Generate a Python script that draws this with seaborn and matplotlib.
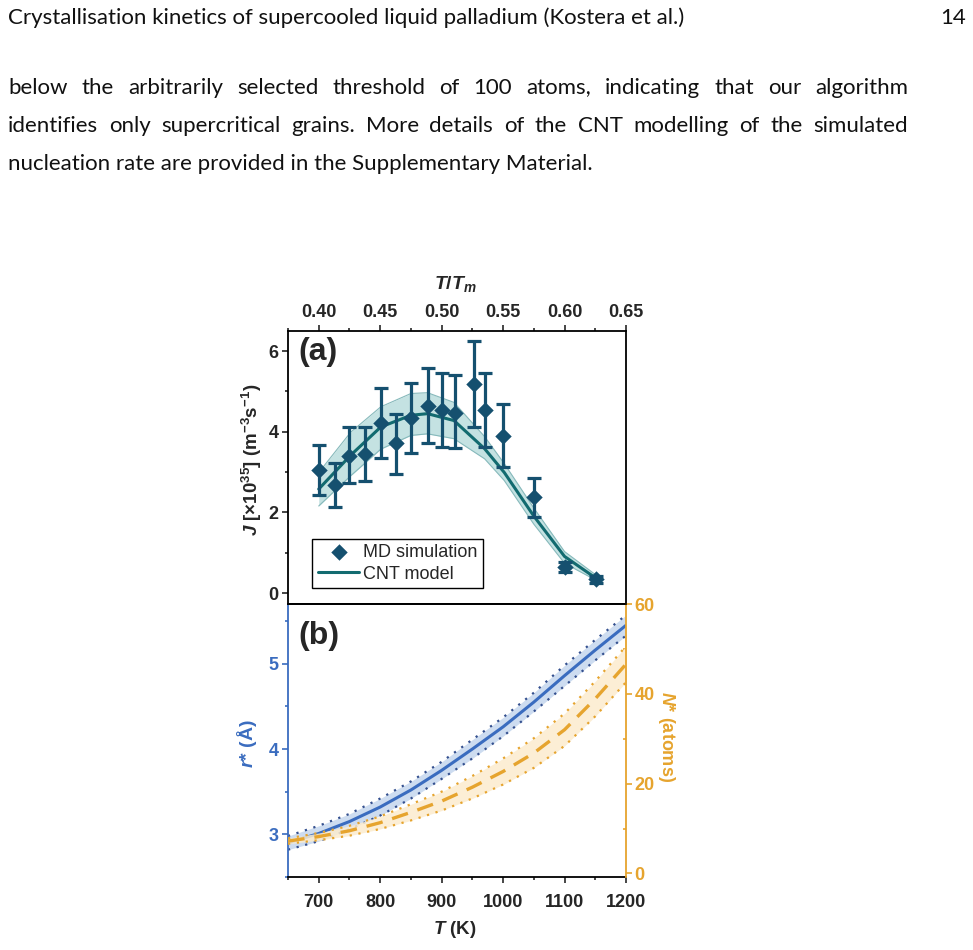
import numpy as np
import pandas as pd
import matplotlib
matplotlib.use("Agg")
import matplotlib.pyplot as plt
from matplotlib.ticker import MultipleLocator, FormatStrFormatter
import seaborn as sns

# page text around the figure
header = "Crystallisation kinetics of supercooled liquid palladium (Kostera et al.)"
page_no = "14"
body_lines = [
    "below the arbitrarily selected threshold of 100 atoms, indicating that our algorithm",
    "identifies only supercritical grains. More details of the CNT modelling of the simulated",
    "nucleation rate are provided in the Supplementary Material.",
]
body_justify = [True, True, False]

# (a) MD nucleation rate, J in 1e35 m^-3 s^-1 vs T/Tm
md_x = [0.400, 0.413, 0.425, 0.438, 0.451, 0.463, 0.475, 0.4885, 0.500, 0.511,
        0.526, 0.535, 0.550, 0.575, 0.6005, 0.6255]
md_j = [3.06, 2.68, 3.41, 3.45, 4.22, 3.72, 4.34, 4.63, 4.54, 4.47,
        5.19, 4.55, 3.90, 2.38, 0.64, 0.34]
md_hi = [3.68, 3.22, 4.13, 4.13, 5.09, 4.43, 5.22, 5.59, 5.45, 5.41,
         6.24, 5.45, 4.70, 2.86, 0.76, 0.42]
md_lo = [2.43, 2.14, 2.72, 2.77, 3.35, 2.95, 3.47, 3.72, 3.62, 3.59,
         4.12, 3.62, 3.12, 1.88, 0.52, 0.26]

# (a) CNT model with its uncertainty band
cnt_x = [0.400, 0.426, 0.4505, 0.475, 0.4885, 0.510, 0.535, 0.551, 0.575, 0.600, 0.6255]
cnt_j = [2.58, 3.42, 4.12, 4.41, 4.45, 4.28, 3.58, 2.99, 1.91, 0.91, 0.37]
cnt_hi = [2.99, 3.99, 4.62, 4.95, 4.97, 4.73, 3.88, 3.21, 2.11, 1.03, 0.45]
cnt_lo = [2.16, 2.91, 3.57, 3.91, 3.95, 3.83, 3.33, 2.79, 1.71, 0.74, 0.32]

# (b) critical radius and critical size vs T
temp_k = [650, 700, 750, 800, 850, 900, 950, 1000, 1050, 1100, 1150, 1200]
r_star = [2.90, 3.01, 3.15, 3.32, 3.52, 3.75, 4.00, 4.26, 4.55, 4.86, 5.16, 5.45]
r_err = [0.08, 0.09, 0.09, 0.10, 0.10, 0.10, 0.11, 0.11, 0.11, 0.12, 0.12, 0.12]
n_star = [7.2, 8.2, 9.5, 11.3, 13.6, 16.1, 19.2, 22.7, 26.8, 32.0, 38.9, 46.6]
n_err = [0.6, 0.8, 1.1, 1.4, 1.8, 2.1, 2.5, 2.9, 3.3, 3.6, 3.9, 4.0]

# colours
md_col = "#15506f"
cnt_col = "#126b70"
cnt_band = "#c4e2e2"
blue = "#3a6cbf"
blue_band = "#cddcf0"
blue_dot = "#34508f"
orange = "#e6a42e"
orange_band = "#fcecce"

sns.set_style("ticks")
plt.rcParams["font.family"] = ["Liberation Sans", "DejaVu Sans"]
plt.rcParams["mathtext.fontset"] = "custom"
plt.rcParams["mathtext.rm"] = "Liberation Sans:bold"
plt.rcParams["mathtext.it"] = "Liberation Sans:italic:bold"
plt.rcParams["mathtext.bf"] = "Liberation Sans:bold"
plt.rcParams["axes.linewidth"] = 1.3

W, H = 973, 950
fig = plt.figure(figsize=(W / 100, H / 100), dpi=100)

# ---- page text
text_font = dict(family=["Lato", "DejaVu Sans"], fontsize=16, color="#111111")
fig.text(8 / W, 1 - 18 / H, header, ha="left", va="center", **text_font)
fig.text(966 / W, 1 - 18 / H, page_no, ha="right", va="center", **text_font)

renderer = fig.canvas.get_renderer()
for i, (line, just) in enumerate(zip(body_lines, body_justify)):
    y = 1 - (88 + 38 * i) / H
    if not just:
        fig.text(8 / W, y, line, ha="left", va="center", **text_font)
        continue
    words = line.split(" ")
    arts = [fig.text(0, y, w, ha="left", va="center", **text_font) for w in words]
    widths = [a.get_window_extent(renderer).width for a in arts]
    gap = (900 - sum(widths)) / (len(words) - 1)
    x = 8
    for a, w in zip(arts, widths):
        a.set_x(x / W)
        x += w + gap

# ---- axes
left, width = 288 / W, 338 / W
ax_a = fig.add_axes([left, 1 - 604 / H, width, 273 / H])
ax_b = fig.add_axes([left, 1 - 877 / H, width, 273 / H])
ax_n = ax_b.twinx()

tick_kw = dict(direction="out", labelsize=13, width=1.2)

# ---- panel (a)
ax_a.fill_between(cnt_x, cnt_lo, cnt_hi, color=cnt_band, lw=0, zorder=1)
ax_a.plot(cnt_x, cnt_hi, color="#86b9bb", lw=0.8, zorder=1.5)
ax_a.plot(cnt_x, cnt_lo, color="#86b9bb", lw=0.8, zorder=1.5)
sns.lineplot(x=cnt_x, y=cnt_j, ax=ax_a, color=cnt_col, lw=2.2, label="CNT model",
             zorder=2, sort=False)
md = pd.DataFrame({"x": md_x, "j": md_j})
ax_a.errorbar(md_x, md_j,
              yerr=[np.subtract(md_j, md_lo), np.subtract(md_hi, md_j)],
              fmt="none", ecolor=md_col, elinewidth=2.3, capsize=4.8, capthick=2.3,
              zorder=3)
sns.scatterplot(data=md, x="x", y="j", ax=ax_a, marker="D", s=70, color=md_col,
                edgecolor=md_col, linewidth=0, label="MD simulation", zorder=4)

handles, labels = ax_a.get_legend_handles_labels()
order = [labels.index("MD simulation"), labels.index("CNT model")]
leg = ax_a.legend([handles[k] for k in order], [labels[k] for k in order],
                  loc="lower left", bbox_to_anchor=(0.072, 0.058), fontsize=13,
                  frameon=True, fancybox=False, edgecolor="black", framealpha=1,
                  handlelength=2.3, handletextpad=0.2, borderpad=0.3,
                  labelspacing=0.25, borderaxespad=0)
leg.get_frame().set_linewidth(1.0)

ax_a.set_xlim(0.375, 0.65)
ax_a.set_ylim(-0.27, 6.5)
ax_a.xaxis.tick_top()
ax_a.xaxis.set_major_locator(MultipleLocator(0.05))
ax_a.xaxis.set_minor_locator(MultipleLocator(0.025))
ax_a.yaxis.set_major_locator(MultipleLocator(2))
ax_a.yaxis.set_minor_locator(MultipleLocator(1))
ax_a.xaxis.set_major_formatter(FormatStrFormatter("%.2f"))
ax_a.tick_params(axis="both", which="major", length=4, pad=3, **tick_kw)
ax_a.tick_params(axis="both", which="minor", length=2.5, direction="out", width=1.2)
for lab in ax_a.get_xticklabels() + ax_a.get_yticklabels():
    lab.set_fontweight("bold")
ax_a.set_xlabel("")
ax_a.set_ylabel("")
for s in ax_a.spines.values():
    s.set_visible(True)
    s.set_color("black")
ax_a.text(0.03, 0.923, "(a)", transform=ax_a.transAxes, fontsize=23,
          fontweight="bold", ha="left", va="center")
ax_a.text(0.494, 1.172, r"$T$/$T_m$", transform=ax_a.transAxes, fontsize=14,
          fontweight="bold", ha="center", va="center")
ax_a.text(-0.107, 0.527, r"$J$ [$\times$10$^{35}$] (m$^{-3}$s$^{-1}$)",
          transform=ax_a.transAxes, fontsize=13.5, fontweight="bold", rotation=90,
          ha="center", va="center")

# ---- panel (b)
r_lo = np.subtract(r_star, r_err)
r_hi = np.add(r_star, r_err)
ax_b.fill_between(temp_k, r_lo, r_hi, color=blue_band, lw=0, zorder=1)
ax_b.plot(temp_k, r_lo, color=blue_dot, lw=1.6, ls=(0, (1, 3)), zorder=2)
ax_b.plot(temp_k, r_hi, color=blue_dot, lw=1.6, ls=(0, (1, 3)), zorder=2)
sns.lineplot(x=temp_k, y=r_star, ax=ax_b, color=blue, lw=2.2, zorder=3)

n_lo = np.subtract(n_star, n_err)
n_hi = np.add(n_star, n_err)
ax_n.fill_between(temp_k, n_lo, n_hi, color=orange_band, lw=0, alpha=0.85, zorder=1)
ax_n.plot(temp_k, n_lo, color=orange, lw=1.6, ls=(0, (1, 3)), zorder=2)
ax_n.plot(temp_k, n_hi, color=orange, lw=1.6, ls=(0, (1, 3)), zorder=2)
sns.lineplot(x=temp_k, y=n_star, ax=ax_n, color=orange, lw=2.4, zorder=3,
             linestyle=(0, (5, 3)))

ax_b.set_xlim(650, 1200)
ax_b.set_ylim(2.5, 5.7)
ax_n.set_ylim(-0.8, 60.0)
ax_b.xaxis.set_major_locator(MultipleLocator(100))
ax_b.xaxis.set_minor_locator(MultipleLocator(50))
ax_b.yaxis.set_major_locator(MultipleLocator(1))
ax_b.yaxis.set_minor_locator(MultipleLocator(0.5))
ax_n.yaxis.set_major_locator(MultipleLocator(20))
ax_n.yaxis.set_minor_locator(MultipleLocator(10))
ax_b.tick_params(axis="x", which="major", length=4, pad=8, **tick_kw)
ax_b.tick_params(axis="x", which="minor", length=2.5, direction="out", width=1.2)
ax_b.tick_params(axis="y", which="major", length=4, pad=3, colors=blue, **tick_kw)
ax_b.tick_params(axis="y", which="minor", length=2.5, direction="out", width=1.2,
                 colors=blue)
ax_n.tick_params(axis="y", which="major", length=4, pad=2, colors=orange, **tick_kw)
ax_n.tick_params(axis="y", which="minor", length=2.5, direction="in", width=1.2,
                 colors=orange)
for lab in ax_b.get_xticklabels() + ax_b.get_yticklabels() + ax_n.get_yticklabels():
    lab.set_fontweight("bold")
ax_b.set_xlabel("")
ax_b.set_ylabel("")
ax_n.set_ylabel("")

for s in ("top", "bottom"):
    ax_b.spines[s].set_color("black")
ax_b.spines["left"].set_color(blue)
ax_b.spines["right"].set_visible(False)
ax_n.spines["left"].set_visible(False)
ax_n.spines["bottom"].set_visible(False)
ax_n.spines["top"].set_color("black")
ax_n.spines["right"].set_color(orange)
ax_n.spines["right"].set_visible(True)

ax_b.text(0.03, 0.883, "(b)", transform=ax_b.transAxes, fontsize=23,
          fontweight="bold", ha="left", va="center")
ax_b.text(-0.121, 0.49, r"$r$* (Å)", transform=ax_b.transAxes, fontsize=14,
          fontweight="bold", rotation=90, ha="center", va="center", color=blue)
ax_b.text(1.121, 0.513, r"$N$* (atoms)", transform=ax_b.transAxes, fontsize=13,
          fontweight="bold", rotation=-90, ha="center", va="center", color=orange)
ax_b.text(0.494, -0.194, r"$T$ (K)", transform=ax_b.transAxes, fontsize=13.5,
          fontweight="bold", ha="center", va="center")

fig.savefig("out.png", dpi=100)
